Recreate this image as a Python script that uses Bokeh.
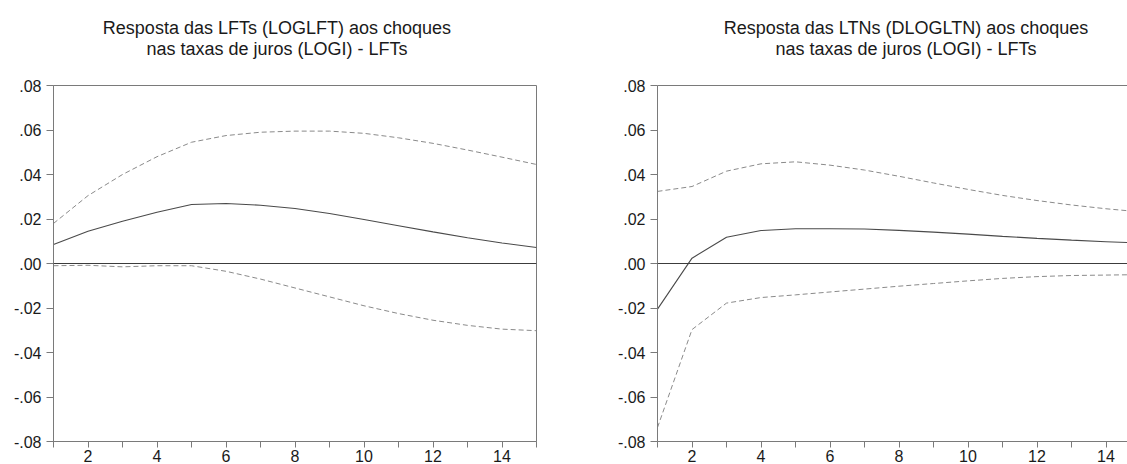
from bokeh.plotting import figure
from bokeh.layouts import row, column
from bokeh.models import (Range1d, FixedTicker, CustomJSTickFormatter, Span, Label,
                          LinearAxis)
from bokeh.embed import file_html
from bokeh.resources import INLINE

# ---------------- data ----------------
periods = list(range(1, 16))

# Left panel: response of LFTs (LOGLFT) to interest-rate shocks (LOGI)
lft_response = [0.0085, 0.0145, 0.0190, 0.0230, 0.0265, 0.0270, 0.0262, 0.0247,
                0.0225, 0.0198, 0.0170, 0.0142, 0.0116, 0.0092, 0.0072]
lft_upper = [0.0180, 0.0305, 0.0400, 0.0480, 0.0545, 0.0575, 0.0590, 0.0595,
             0.0595, 0.0585, 0.0565, 0.0540, 0.0510, 0.0478, 0.0445]
lft_lower = [-0.0010, -0.0008, -0.0015, -0.0010, -0.0010, -0.0035, -0.0070, -0.0110,
             -0.0150, -0.0190, -0.0225, -0.0255, -0.0278, -0.0295, -0.0302]

# Right panel: response of LTNs (DLOGLTN) to interest-rate shocks (LOGI)
ltn_response = [-0.0205, 0.0024, 0.0118, 0.0148, 0.0156, 0.0156, 0.0155, 0.0149,
                0.0141, 0.0132, 0.0122, 0.0113, 0.0105, 0.0098, 0.0092]
ltn_upper = [0.0324, 0.0346, 0.0415, 0.0448, 0.0457, 0.0442, 0.0420, 0.0392,
             0.0362, 0.0333, 0.0306, 0.0283, 0.0263, 0.0246, 0.0232]
ltn_lower = [-0.0737, -0.0297, -0.0178, -0.0153, -0.0141, -0.0128, -0.0115, -0.0102,
             -0.0090, -0.0078, -0.0067, -0.0059, -0.0054, -0.0052, -0.0050]

left_title = ["Resposta das LFTs (LOGLFT) aos choques",
              "nas taxas de juros (LOGI) - LFTs"]
right_title = ["Resposta das LTNs (DLOGLTN) aos choques",
               "nas taxas de juros (LOGI) - LFTs"]

y_ticks = [-0.08, -0.06, -0.04, -0.02, 0.0, 0.02, 0.04, 0.06, 0.08]
x_major = [2, 4, 6, 8, 10, 12, 14]
x_minor = [1, 3, 5, 7, 9, 11, 13, 15]

FONT = "Liberation Sans"
AXIS_COLOR = "#7a7a7a"
TEXT_COLOR = "#1a1a1a"
TITLE_H = 75
PLOT_H = 389


def make_title(lines, width, center):
    t = figure(width=width, height=TITLE_H, output_backend="svg",
               toolbar_location=None, x_range=Range1d(0, width),
               y_range=Range1d(0, TITLE_H), min_border=0)
    t.title = None
    t.axis.visible = False
    t.grid.visible = False
    t.outline_line_color = None
    for txt, yy in zip(lines, [TITLE_H - 27, TITLE_H - 48]):
        t.add_layout(Label(x=center, y=yy, text=txt, text_align="center",
                           text_baseline="alphabetic", text_font=FONT,
                           text_font_size="18px", text_color=TEXT_COLOR))
    return t


def make_panel(resp, upper, lower, width, bl, br, x_end, closed):
    p = figure(width=width, height=PLOT_H, output_backend="svg",
               toolbar_location=None,
               x_range=Range1d(1, x_end), y_range=Range1d(-0.08, 0.08),
               min_border_left=bl, min_border_right=br, min_border_top=10,
               min_border_bottom=20)
    p.title = None
    p.xgrid.visible = False
    p.ygrid.visible = False
    p.background_fill_color = "white"
    p.border_fill_color = "white"
    xa = p.below[0]
    ya = p.left[0]
    if closed:
        p.outline_line_color = AXIS_COLOR
        p.outline_line_width = 1
    else:
        p.outline_line_color = None
        top = LinearAxis(ticker=FixedTicker(ticks=[]), axis_line_color=AXIS_COLOR,
                         major_tick_line_color=None, minor_tick_line_color=None,
                         major_tick_out=0, minor_tick_out=0,
                         major_label_standoff=0,
                         major_label_text_font_size="0px")
        p.add_layout(top, "above")

    xa.ticker = FixedTicker(ticks=x_major, minor_ticks=x_minor)
    xa.axis_line_color = AXIS_COLOR
    xa.major_tick_line_color = AXIS_COLOR
    xa.minor_tick_line_color = AXIS_COLOR
    xa.major_tick_in = 0
    xa.major_tick_out = 6
    xa.minor_tick_in = 0
    xa.minor_tick_out = 6
    xa.major_label_standoff = 2
    xa.major_label_text_font = FONT
    xa.major_label_text_font_size = "16px"
    xa.major_label_text_color = TEXT_COLOR

    ya.ticker = FixedTicker(ticks=y_ticks, minor_ticks=[])
    ya.formatter = CustomJSTickFormatter(
        code="return tick.toFixed(2).replace('0.', '.');")
    ya.axis_line_color = AXIS_COLOR
    ya.major_tick_line_color = AXIS_COLOR
    ya.minor_tick_line_color = None
    ya.major_tick_in = 0
    ya.major_tick_out = 7
    ya.major_label_standoff = 5
    ya.major_label_text_font = FONT
    ya.major_label_text_font_size = "16px"
    ya.major_label_text_color = TEXT_COLOR

    p.add_layout(Span(location=0, dimension="width", line_color="#3c3c3c",
                      line_width=1))

    p.line(periods, upper, line_color="#8a8a8a", line_width=1, line_dash="5 3")
    p.line(periods, lower, line_color="#8a8a8a", line_width=1, line_dash="5 3")
    p.line(periods, resp, line_color="#4a4a4a", line_width=1.1)
    return p


t1 = make_title(left_title, 588, 272)
t2 = make_title(right_title, 539, 285)
p1 = make_panel(lft_response, lft_upper, lft_lower,
                width=588, bl=53, br=52, x_end=15, closed=True)
p2 = make_panel(ltn_response, ltn_upper, ltn_lower,
                width=539, bl=69, br=0, x_end=14.623, closed=False)

layout = row(column(t1, p1), column(t2, p2))
open("out.html", "w").write(file_html(layout, INLINE))
